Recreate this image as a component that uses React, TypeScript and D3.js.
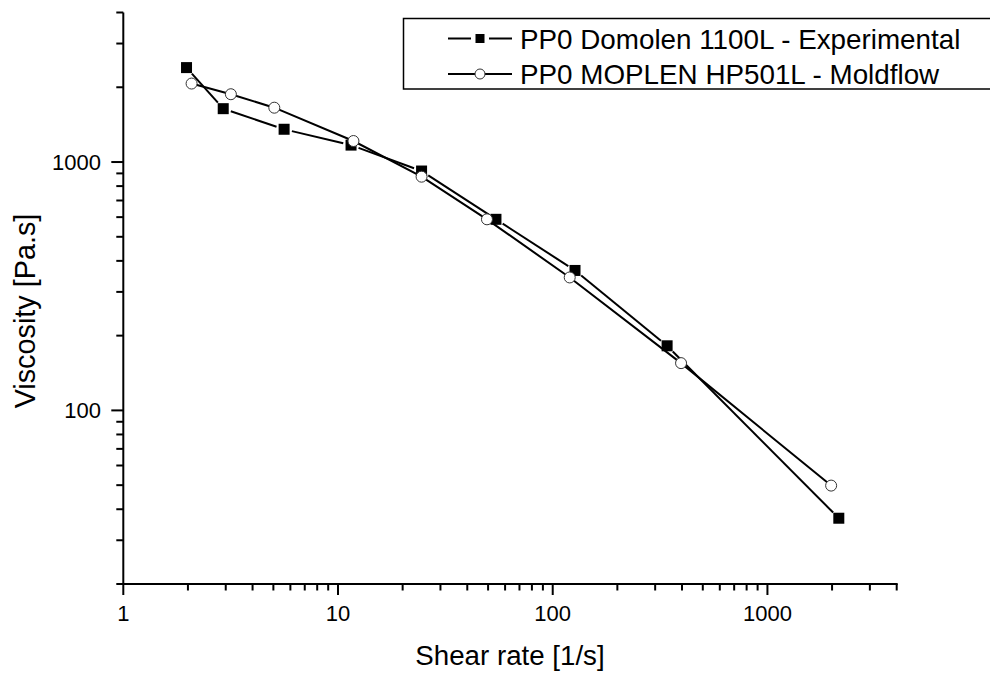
import React from "react";
import * as d3 from "d3";

const expX = [1.97, 2.92, 5.61, 11.5, 24.5, 54.4, 127, 341, 2150];
const expY = [2400, 1640, 1355, 1170, 920, 588, 366, 182, 36.8];
const moldX = [2.08, 3.17, 5.05, 11.8, 24.5, 49.4, 120, 396, 1980];
const moldY = [2070, 1875, 1655, 1215, 873, 588, 343, 155, 49.8];

const xMajor = [1, 10, 100, 1000];
const xMinor = [2, 3, 4, 5, 6, 7, 8, 9, 20, 30, 40, 50, 60, 70, 80, 90, 200, 300, 400, 500, 600, 700, 800, 900, 2000, 3000, 4000];
const yMajor = [100, 1000];
const yMinor = [20, 30, 40, 50, 60, 70, 80, 90, 200, 300, 400, 500, 600, 700, 800, 900, 2000, 3000, 4000];

const seriesNames = ["PP0 Domolen 1100L - Experimental", "PP0 MOPLEN HP501L - Moldflow"];
const xTitle = "Shear rate [1/s]";
const yTitle = "Viscosity [Pa.s]";

const FONT = "'Liberation Sans', Arial, Helvetica, sans-serif";

export default function App() {
  const x = d3.scaleLog().domain([1, 4000]).range([123.3, 896.7]);
  const y = d3.scaleLog().domain([20, 4000]).range([584, 12.5]);
  const left = x.range()[0];
  const right = x.range()[1];
  const bottom = y.range()[0];
  const top = y.range()[1];

  const exp = expX.map((v, i) => [x(v), y(expY[i])]);
  const mold = moldX.map((v, i) => [x(v), y(moldY[i])]);

  const gap = 8;
  const expSegs = exp.slice(1).map((p, i) => {
    const a = exp[i];
    const dx = p[0] - a[0];
    const dy = p[1] - a[1];
    const len = Math.hypot(dx, dy);
    const ux = dx / len, uy = dy / len;
    return [a[0] + ux * gap, a[1] + uy * gap, p[0] - ux * gap, p[1] - uy * gap];
  });
  const moldLine = d3.line()(mold as [number, number][]) || "";
  const sq = 11;
  const r = 5.5;

  return (
    <svg
      width={990}
      height={673}
      style={{ position: "fixed", left: 0, top: 0, background: "#fff" }}
      fontFamily={FONT}
    >
      <rect x={0} y={0} width={990} height={673} fill="#fff" />
      {/* axes */}
      <line x1={left} x2={left} y1={top} y2={bottom + 1} stroke="#000" strokeWidth={2} />
      <line x1={left - 1} x2={right + 1} y1={bottom} y2={bottom} stroke="#000" strokeWidth={2} />
      {xMajor.map((v) => (
        <g key={"xM" + v}>
          <line x1={x(v)} x2={x(v)} y1={bottom} y2={bottom + 11} stroke="#000" strokeWidth={2} />
          <text x={x(v)} y={621} fontSize={22} textAnchor="middle" fill="#000">
            {v}
          </text>
        </g>
      ))}
      {xMinor.map((v) => (
        <line key={"xm" + v} x1={x(v)} x2={x(v)} y1={bottom} y2={bottom + 6.5} stroke="#000" strokeWidth={2} />
      ))}
      {yMajor.map((v) => (
        <g key={"yM" + v}>
          <line x1={left - 12} x2={left} y1={y(v)} y2={y(v)} stroke="#000" strokeWidth={2} />
          <text x={101} y={y(v)} dy="0.35em" fontSize={22} textAnchor="end" fill="#000">
            {v}
          </text>
        </g>
      ))}
      {yMinor.map((v) => (
        <line key={"ym" + v} x1={left - 7} x2={left} y1={y(v)} y2={y(v)} stroke="#000" strokeWidth={2} />
      ))}
      <text x={(left + right) / 2} y={665} fontSize={27.7} textAnchor="middle" fill="#000">
        {xTitle}
      </text>
      <text
        transform={`translate(35,311) rotate(-90)`}
        fontSize={28.8}
        textAnchor="middle"
        fill="#000"
      >
        {yTitle}
      </text>

      {/* experimental series */}
      {expSegs.map((s, i) => (
        <line key={"es" + i} x1={s[0]} y1={s[1]} x2={s[2]} y2={s[3]} stroke="#000" strokeWidth={2} />
      ))}
      {exp.map((p, i) => (
        <rect key={"ep" + i} x={p[0] - sq / 2} y={p[1] - sq / 2} width={sq} height={sq} fill="#000" />
      ))}
      {/* moldflow series */}
      <path d={moldLine} fill="none" stroke="#000" strokeWidth={2} />
      {mold.map((p, i) => (
        <circle key={"mp" + i} cx={p[0]} cy={p[1]} r={r} fill="#fff" stroke="#333" strokeWidth={1} />
      ))}

      {/* legend */}
      <rect x={403.5} y={18.5} width={600} height={70.5} fill="#fff" stroke="#000" strokeWidth={1.5} />
      <line x1={448} x2={471} y1={38.5} y2={38.5} stroke="#000" strokeWidth={2} />
      <line x1={489} x2={512} y1={38.5} y2={38.5} stroke="#000" strokeWidth={2} />
      <rect x={480 - 4.5} y={38.5 - 4.5} width={9} height={9} fill="#000" />
      <text x={520} y={38.5} dy="0.36em" fontSize={27.8} fill="#000">
        {seriesNames[0]}
      </text>
      <line x1={448} x2={512} y1={74} y2={74} stroke="#000" strokeWidth={2} />
      <circle cx={480} cy={74} r={5} fill="#fff" stroke="#333" strokeWidth={1} />
      <text x={520} y={74} dy="0.36em" fontSize={27.8} fill="#000">
        {seriesNames[1]}
      </text>
    </svg>
  );
}
